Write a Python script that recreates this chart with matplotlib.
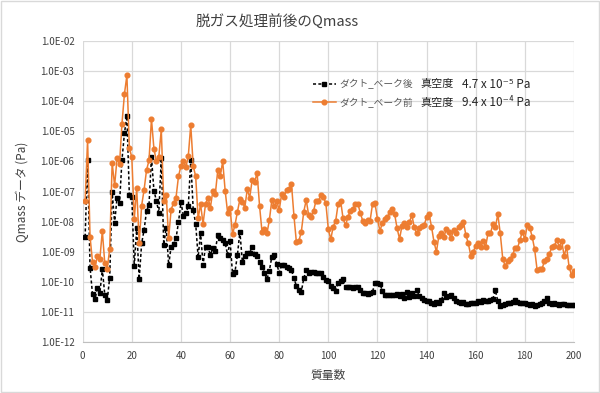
import numpy as np
import matplotlib
matplotlib.use("Agg")
import matplotlib.pyplot as plt
from matplotlib.patches import Rectangle
from matplotlib.ticker import FixedLocator, FuncFormatter

plt.rcParams['font.family'] = ['Noto Sans CJK JP', 'DejaVu Sans']

# mass numbers 1..200
mass = np.arange(1, 201)

# log10 of the Qmass reading (Pa)
after_log = [
    -8.5, -5.95, -9.52, -10.4, -10.56, -10.2, -10.36, -9.57, -10.42, -10.59,
    -9.85, -7.0, -8.05, -7.2, -7.39, -5.95, -5.07, -4.5, -7.13, -7.17,
    -9.47, -8.2, -9.9, -8.72, -8.27, -7.64, -7.45, -5.85, -6.97, -7.3,
    -7.7, -5.9, -8.76, -8.2, -9.43, -8.83, -8.75, -8.55, -8.02, -7.35,
    -7.8, -7.72, -7.49, -5.96, -7.61, -8.06, -9.18, -8.36, -9.43, -8.83,
    -8.83, -9.1, -8.88, -8.96, -8.44, -8.53, -8.61, -8.7, -9.1, -8.63,
    -9.73, -9.66, -9.1, -8.33, -9.32, -9.14, -9.05, -9.03, -8.85, -9.07,
    -9.14, -9.32, -9.49, -9.69, -9.91, -9.62, -9.16, -9.1, -9.4, -9.69,
    -9.43, -9.45, -9.49, -9.54, -9.6, -9.88, -10.12, -10.26, -10.32, -9.88,
    -9.6, -9.71, -9.68, -9.65, -9.71, -9.71, -9.71, -9.82, -9.93, -9.95,
    -10.13, -10.2, -10.28, -10.04, -9.95, -9.91, -10.15, -10.17, -10.17, -10.18,
    -10.15, -10.17, -10.26, -10.35, -10.37, -10.39, -10.35, -10.32, -10.02, -10.02,
    -10.06, -10.28, -10.43, -10.43, -10.43, -10.43, -10.43, -10.39, -10.46, -10.39,
    -10.54, -10.32, -10.48, -10.35, -10.46, -10.26, -10.46, -10.54, -10.59, -10.63,
    -10.61, -10.7, -10.72, -10.66, -10.68, -10.6, -10.37, -10.5, -10.46, -10.43,
    -10.52, -10.61, -10.66, -10.68, -10.66, -10.72, -10.72, -10.7, -10.7, -10.7,
    -10.62, -10.66, -10.6, -10.62, -10.62, -10.6, -10.55, -10.27, -10.63, -10.78,
    -10.75, -10.72, -10.7, -10.68, -10.65, -10.6, -10.65, -10.68, -10.7, -10.68,
    -10.72, -10.75, -10.72, -10.78, -10.75, -10.72, -10.7, -10.62, -10.54, -10.7,
    -10.72, -10.7, -10.72, -10.75, -10.72, -10.72, -10.75, -10.75, -10.75, -10.76,
]

before_log = [
    -7.31, -5.29, -8.5, -9.33, -9.5, -9.14, -9.22, -8.31, -9.38, -9.55,
    -8.9, -6.05, -6.8, -5.9, -6.1, -4.75, -3.77, -3.15, -5.55, -5.87,
    -7.9, -6.9, -8.72, -7.47, -6.94, -6.29, -5.97, -4.6, -5.58, -6.0,
    -5.85, -4.94, -7.33, -7.1, -8.55, -7.6, -7.38, -7.2, -6.5, -6.15,
    -5.98, -6.2, -5.82, -4.8, -6.15, -6.5, -7.89, -7.42, -8.07, -7.42,
    -7.2, -7.53, -6.97, -7.08, -6.29, -6.49, -6.0, -6.97, -7.7, -7.56,
    -8.41, -8.11, -7.67, -7.26, -7.34, -7.53, -6.93, -7.2, -6.62, -6.69,
    -6.38, -7.47, -8.33, -8.25, -8.39, -7.95, -7.28, -7.48, -7.31, -7.62,
    -7.08, -7.17, -6.95, -6.93, -6.75, -7.8, -8.68, -8.64, -8.34, -7.67,
    -7.28, -7.78, -7.84, -7.64, -7.3, -7.3, -7.12, -7.19, -7.39, -8.25,
    -8.58, -8.16, -7.97, -7.41, -7.3, -7.89, -8.12, -7.84, -7.64, -7.59,
    -7.4, -7.4, -7.7, -7.97, -8.05, -7.94, -7.97, -7.41, -7.39, -7.91,
    -8.3, -8.05, -7.92, -7.86, -7.69, -7.57, -7.75, -8.22, -8.57, -8.13,
    -8.05, -8.16, -8.02, -7.78, -8.19, -8.39, -8.22, -8.14, -8.11, -7.86,
    -7.75, -8.16, -8.66, -9.0, -8.47, -8.39, -8.52, -8.25, -8.35, -8.55,
    -8.27, -8.36, -8.16, -8.11, -8.0, -8.44, -8.72, -9.13, -8.99, -8.8,
    -8.69, -8.85, -8.63, -8.85, -8.39, -8.39, -8.08, -8.19, -7.75, -8.39,
    -9.22, -9.47, -9.3, -9.25, -9.1, -8.88, -8.88, -8.6, -8.33, -8.58,
    -8.11, -8.2, -8.5, -8.92, -9.6, -9.58, -9.56, -9.3, -9.25, -9.07,
    -8.83, -8.8, -8.6, -8.83, -8.63, -9.13, -8.83, -9.49, -9.77, -9.62,
]

after_label = "ダクト_ベーク後"
before_label = "ダクト_ベーク前"
after_vac = "4.7 x 10⁻⁵ Pa"
before_vac = "9.4 x 10⁻⁴ Pa"

x_ticks = list(range(0, 201, 20))
y_exps = list(range(-12, -1))

after = 10.0 ** np.array(after_log)
before = 10.0 ** np.array(before_log)

fig = plt.figure(figsize=(6, 3.93), dpi=100)
fig.patches.append(Rectangle((0.002, 0.003), 0.996, 0.994, transform=fig.transFigure,
                             fill=False, edgecolor='#D9D9D9', lw=1))
ax = fig.add_axes([0.1378, 0.1285, 0.8188, 0.7684])

ax.plot(mass, after, color='black', ls=(0, (2, 1.5)), lw=1.1,
        marker='s', ms=3, label=after_label, zorder=3)
ax.plot(mass, before, color='#ED7D31', lw=1.1,
        marker='o', ms=3.4, label=before_label, zorder=4)

ax.set_yscale('log')
ax.set_ylim(1e-12, 1e-2)
ax.set_xlim(0, 200)
ax.xaxis.set_major_locator(FixedLocator(x_ticks))
ax.yaxis.set_major_locator(FixedLocator([10.0 ** e for e in y_exps]))
ax.yaxis.set_minor_locator(FixedLocator([]))
ax.yaxis.set_major_formatter(FuncFormatter(lambda v, p: "1.0E-%02d" % round(-np.log10(v))))
ax.grid(True, color='#D9D9D9', lw=0.9)
ax.set_axisbelow(True)
for s in ['top', 'right', 'left']:
    ax.spines[s].set_visible(False)
ax.spines['bottom'].set_color('#BFBFBF')
ax.tick_params(length=0, labelsize=7, colors='#404040', pad=6)

ax.set_xlabel("質量数", fontsize=8.5, color='#404040', labelpad=6)
ax.set_ylabel("Qmass データ (Pa)", fontsize=8.5, color='#404040', labelpad=8)
fig.text(0.462, 0.945, "脱ガス処理前後のQmass", ha='center', va='center',
         fontsize=10.5, color='#404040')

leg = fig.legend(loc='center left', bbox_to_anchor=(0.522, 0.762), frameon=False,
                 fontsize=7, handlelength=2.3, labelspacing=0.85, handletextpad=0.4,
                 borderpad=0, borderaxespad=0)
for t in leg.get_texts():
    t.set_color('#595959')

fig.text(0.70, 0.786, "真空度", fontsize=8, color='#262626', va='center')
fig.text(0.77, 0.786, after_vac, fontsize=8.5, color='#262626', va='center')
fig.text(0.70, 0.738, "真空度", fontsize=8, color='#262626', va='center')
fig.text(0.77, 0.738, before_vac, fontsize=8.5, color='#262626', va='center')

fig.savefig("out.png", dpi=100)
